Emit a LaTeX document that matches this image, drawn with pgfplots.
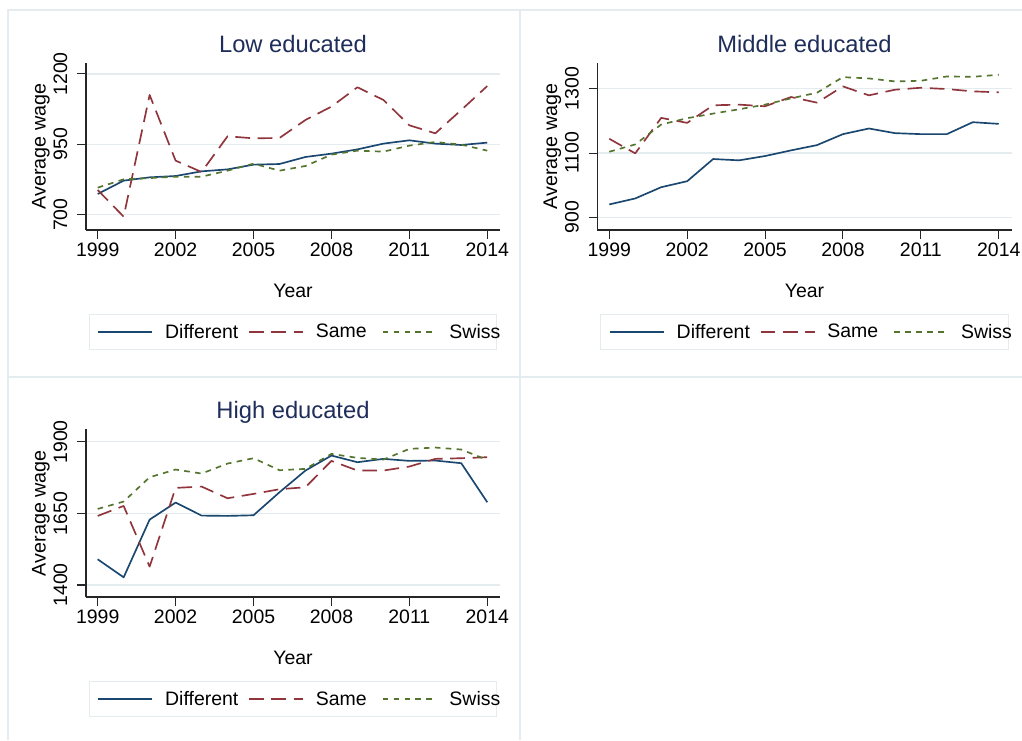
\documentclass[border=0pt]{standalone}
\usepackage{fontspec}
\setmainfont{Liberation Sans}
\usepackage{pgfplots}
\pgfplotsset{compat=1.18}
\definecolor{stnavy}{RGB}{26,71,111}
\definecolor{stmaroon}{RGB}{144,53,59}
\definecolor{stgreen}{RGB}{85,117,47}
\definecolor{stgrid}{RGB}{228,236,240}
\definecolor{sttitle}{RGB}{30,45,90}
\definecolor{stborder}{RGB}{228,236,240}

\pgfplotsset{
  stata/.style={
    scale only axis, width=310.5pt, height=125.5pt,
    axis lines*=left,
    axis line style={line width=0.8pt, black!85},
    tick align=outside, major tick length=6.4pt,
    tick style={line width=0.8pt, black!85},
    xtick={1999,2002,...,2014},
    /pgf/number format/1000 sep={},
    /pgf/number format/assume math mode=true,
    ymajorgrids, grid style={stgrid, line width=0.9pt},
    yticklabel style={rotate=90, anchor=south},
    yticklabel shift=4pt,
    tick label style={font=\fontsize{14.6}{16}\selectfont},
    title style={font=\fontsize{17.8}{20}\selectfont, color=sttitle, at={(0.5,1)}, anchor=base, yshift=2pt},
    xlabel={Year},
    ylabel={Average wage},
    every axis x label/.style={at={(axis description cs:0.5,0)}, anchor=base, yshift=-50.25pt, font=\fontsize{14.6}{16}\selectfont},
    every axis y label/.style={at={(axis description cs:-0.1087,0.5)}, rotate=90, anchor=center, font=\fontsize{14.8}{16}\selectfont},
    legend columns=3,
    legend cell align=left,
    legend style={at={(0.5,-0.6097)}, anchor=center, draw=stborder, line width=0.8pt,
      inner xsep=6.2pt, inner ysep=7pt, nodes={inner sep=0pt},
      font=\fontsize{14.6}{16}\selectfont,
      /tikz/every odd column/.append style={column sep=9pt}},
    legend image code/.code={\draw[##1] (0pt,0pt) -- (40.5pt,0pt);},
    every axis plot/.append style={line join=round},
  },
  dif/.style={stnavy, line width=1.25pt},
  sam/.style={stmaroon, line width=1.25pt, dash pattern=on 11pt off 5.75pt},
  swi/.style={stgreen, line width=1.25pt, dash pattern=on 4.2pt off 4pt},
}

\begin{document}
\begin{tikzpicture}
\path[use as bounding box] (0pt,0pt) rectangle (766.5pt,-555pt);
\fill[white] (0pt,0pt) rectangle (766.5pt,-555pt);
\draw[stborder, line width=0.8pt] (766.5pt,-7.5pt) -- (6pt,-7.5pt) -- (6pt,-555pt);
\draw[stborder, line width=0.8pt] (6pt,-282.75pt) -- (766.5pt,-282.75pt);
\draw[stborder, line width=0.8pt] (390pt,-7.5pt) -- (390pt,-555pt);

% Low educated
\begin{axis}[stata, at={(64.5pt,-172.5pt)}, anchor=south west,
  title={Low educated},
  xmin=1998.55, xmax=2014.49, ymin=645.6, ymax=1240, ytick={700,950,1200}]
\addplot[dif] coordinates {(1999,773.5) (2000,821) (2001,832.7) (2002,837.4) (2003,854) (2004,861) (2005,877.7) (2006,880) (2007,905) (2008,916.8) (2009,932) (2010,952.4) (2011,964.2) (2012,952.4) (2013,947.6) (2014,956)};
\addlegendentry{\makebox[62.25pt][l]{Different}}
\addplot[sam] coordinates {(1999,787.7) (2000,693) (2001,1125.4) (2002,892) (2003,851.7) (2004,978.4) (2005,971.3) (2006,972.5) (2007,1036.5) (2008,1084) (2009,1152.6) (2010,1107.6) (2011,1017.5) (2012,989) (2013,1072) (2014,1157)};
\addlegendentry{\makebox[49.5pt][l]{Same}}
\addplot[swi] coordinates {(1999,796) (2000,825.6) (2001,830) (2002,835) (2003,835) (2004,856.4) (2005,881.3) (2006,856.4) (2007,873) (2008,913.3) (2009,927.5) (2010,924) (2011,945.3) (2012,958.3) (2013,948.8) (2014,927.5)};
\addlegendentry{\makebox[29.25pt][l]{Swiss}}
\end{axis}

% Middle educated
\begin{axis}[stata, at={(448pt,-172.5pt)}, anchor=south west, width=310.8pt,
  title={Middle educated},
  xmin=1998.54, xmax=2014.5, ymin=860.7, ymax=1381, ytick={900,1100,1300}]
\addplot[dif] coordinates {(1999,940.2) (2000,958.8) (2001,993.8) (2002,1012.4) (2003,1081.4) (2004,1077.3) (2005,1090.7) (2006,1108.3) (2007,1124.7) (2008,1158.8) (2009,1176.3) (2010,1161.9) (2011,1158.8) (2012,1158.8) (2013,1195.9) (2014,1190.7)};
\addlegendentry{\makebox[62.25pt][l]{Different}}
\addplot[sam] coordinates {(1999,1144.3) (2000,1099) (2001,1209.3) (2002,1193.8) (2003,1248.5) (2004,1250.5) (2005,1245.4) (2006,1274.2) (2007,1256.7) (2008,1307.2) (2009,1279.4) (2010,1296.9) (2011,1303) (2012,1299) (2013,1291.8) (2014,1288.7)};
\addlegendentry{\makebox[49.5pt][l]{Same}}
\addplot[swi] coordinates {(1999,1104.1) (2000,1126.8) (2001,1188.7) (2002,1208.3) (2003,1222.7) (2004,1236.1) (2005,1250.5) (2006,1270.1) (2007,1287.6) (2008,1336) (2009,1332) (2010,1322.7) (2011,1324.7) (2012,1338.1) (2013,1337.1) (2014,1343.3)};
\addlegendentry{\makebox[29.25pt][l]{Swiss}}
\end{axis}

% High educated
\begin{axis}[stata, at={(64.5pt,-447.75pt)}, anchor=south west, height=125.8pt,
  title={High educated},
  xmin=1998.55, xmax=2014.49, ymin=1358, ymax=1944, ytick={1400,1650,1900}]
\addplot[dif] coordinates {(1999,1489.7) (2000,1426.8) (2001,1628.4) (2002,1687.9) (2003,1642.4) (2004,1641.3) (2005,1643.6) (2006,1724) (2007,1799.8) (2008,1852.2) (2009,1828.9) (2010,1840.6) (2011,1833.6) (2012,1834.7) (2013,1825.4) (2014,1689)};
\addlegendentry{\makebox[62.25pt][l]{Different}}
\addplot[sam] coordinates {(1999,1641.3) (2000,1676.2) (2001,1464.1) (2002,1739.2) (2003,1743.8) (2004,1703) (2005,1718.2) (2006,1734.5) (2007,1741.5) (2008,1833.6) (2009,1799.8) (2010,1799.8) (2011,1813.8) (2012,1840.6) (2013,1842.9) (2014,1846.4)};
\addlegendentry{\makebox[49.5pt][l]{Same}}
\addplot[swi] coordinates {(1999,1665.7) (2000,1691.4) (2001,1776.5) (2002,1803.3) (2003,1789.3) (2004,1824.2) (2005,1842.9) (2006,1800.9) (2007,1805.6) (2008,1858) (2009,1844.1) (2010,1838.2) (2011,1875.5) (2012,1880.2) (2013,1873.2) (2014,1837)};
\addlegendentry{\makebox[29.25pt][l]{Swiss}}
\end{axis}
\end{tikzpicture}
\end{document}
